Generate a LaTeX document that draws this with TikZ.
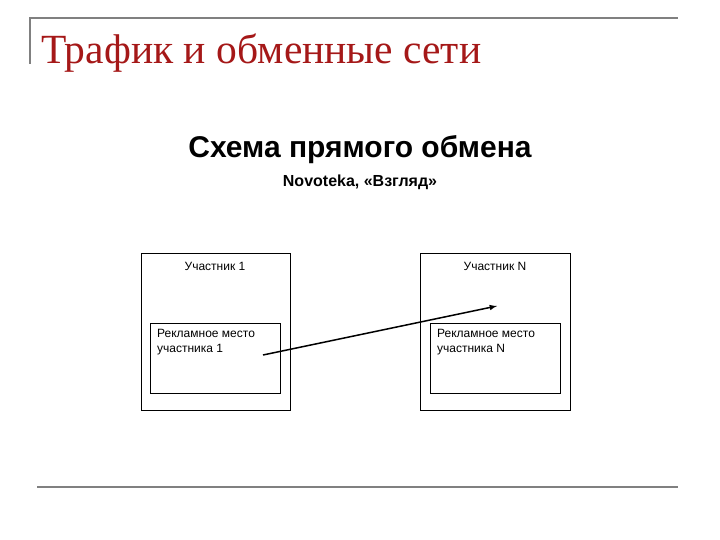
\documentclass[tikz,border=0pt]{standalone}
\usepackage{fontspec}
\setmainfont{Liberation Sans}
\newfontfamily\serifru{Liberation Serif}
\definecolor{ttl}{HTML}{A51818}
\begin{document}
\begin{tikzpicture}[x=1pt,y=-1pt,
  box/.style={draw,line width=0.7pt},
  lbl/.style={font=\fontsize{12}{15}\selectfont,align=left,inner sep=0pt}]
\useasboundingbox[fill=white] (0,0) rectangle (720,540);
\draw[gray,line width=2pt] (30,64) -- (30,18) -- (678,18);
\draw[gray,line width=2pt] (37,487) -- (678,487);
\node[anchor=base west,text=ttl,font=\serifru\fontsize{41.5}{44}\selectfont,inner sep=0pt] (t) at (41,64) {Трафик и обменные сети};
\node[font=\bfseries\fontsize{30}{32}\selectfont] (h) at (360,150) {Схема прямого обмена};
\node[font=\bfseries\fontsize{16}{18}\selectfont] (s) at (360,182) {Novoteka, «Взгляд»};
\draw[box] (141,253) rectangle (290,410);
\draw[box] (150,323) rectangle (280,393);
\draw[box] (420,253) rectangle (570,410);
\draw[box] (430,323) rectangle (560,393);
\node[lbl] (p1) at (215,266) {Участник 1};
\node[lbl] (pn) at (495,266) {Участник N};
\node[lbl,anchor=north west] (r1) at (157,329) {Рекламное место\\участника 1};
\node[lbl,anchor=north west] (rn) at (437,329) {Рекламное место\\участника N};
\coordinate (a) at (263,355);
\coordinate (b) at (497,306);
\draw[-latex,line width=1.5pt] (a) -- (b);
\end{tikzpicture}
\end{document}
